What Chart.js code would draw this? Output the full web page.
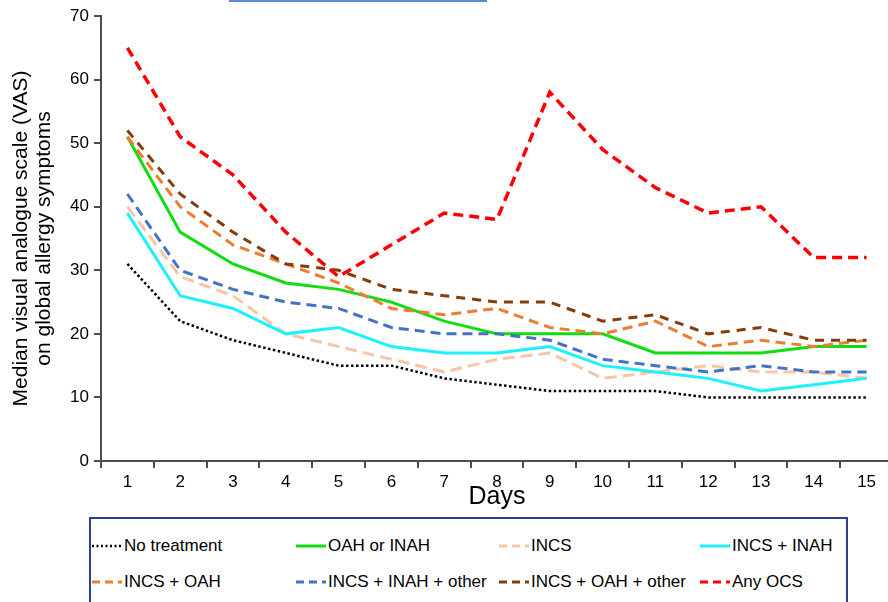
<!DOCTYPE html>
<html><head><meta charset="utf-8">
<script src="https://cdn.jsdelivr.net/npm/chart.js@4"></script>
<style>
html,body{margin:0;padding:0;background:#fff;overflow:hidden;width:888px;height:602px;}
#wrap{position:absolute;left:0;top:0;width:894px;height:512px;}
#topline{position:absolute;left:229px;top:0;width:258px;height:2px;background:#5b8bd6;}
#legend{position:absolute;left:89px;top:517px;width:759px;height:100px;border:2px solid #2f3f8f;box-sizing:border-box;font-family:"Liberation Sans",Arial,sans-serif;font-size:17px;color:#000;}
.item{position:absolute;height:20px;line-height:20px;display:flex;align-items:center;white-space:nowrap;}
.item svg{margin-right:2px;}
</style></head>
<body>
<div id="topline"></div>
<div id="wrap"><canvas id="c" width="894" height="512"></canvas></div>
<div id="legend"></div>
<script>
const days = ['1','2','3','4','5','6','7','8','9','10','11','12','13','14','15'];
const seriesNames = ['No treatment','OAH or INAH','INCS','INCS + INAH','INCS + OAH','INCS + INAH + other','INCS + OAH + other','Any OCS'];
const noTreatment     = [31,22,19,17,15,15,13,12,11,11,11,10,10,10,10];
const oahOrInah       = [51,36,31,28,27,25,22,20,20,20,17,17,17,18,18];
const incs            = [40,29,26,20,18,16,14,16,17,13,14,15,14,14,13];
const incsInah        = [39,26,24,20,21,18,17,17,18,15,14,13,11,12,13];
const incsOah         = [51,40,34,31,28,24,23,24,21,20,22,18,19,18,19];
const incsInahOther   = [42,30,27,25,24,21,20,20,19,16,15,14,15,14,14];
const incsOahOther    = [52,42,36,31,30,27,26,25,25,22,23,20,21,19,19];
const anyOcs          = [65,51,45,36,29,34,39,38,58,49,43,39,40,32,32];
const yTicks = [0,10,20,30,40,50,60,70];

const styles = [
  {color:'#000000', width:2.5, dash:[2.5,2.5], ldash:'2 2.5'},
  {color:'#11dd11', width:3,   dash:[],       ldash:''},
  {color:'#f7c6a6', width:3,   dash:[12,6],   ldash:'8 5'},
  {color:'#1ff0ff', width:3,   dash:[],       ldash:''},
  {color:'#ed7d31', width:3,   dash:[10,6],   ldash:'8 5'},
  {color:'#4472c4', width:3,   dash:[10,6],   ldash:'8 5'},
  {color:'#843c0c', width:3,   dash:[9,7],    ldash:'8 5'},
  {color:'#ff0000', width:3.5, dash:[10,6],   ldash:'8 5'}
];
const values = [noTreatment,oahOrInah,incs,incsInah,incsOah,incsInahOther,incsOahOther,anyOcs];
const FONT = '"Liberation Sans", Arial, sans-serif';

// draw order: red last? keep natural order, red on top
const datasets = values.map((v,i)=>({
  label: seriesNames[i], data: v,
  borderColor: styles[i].color, borderWidth: styles[i].width,
  borderDash: styles[i].dash, borderCapStyle: 'butt',
  pointRadius: 0, fill: false, tension: 0,
  order: 8 - i
}));

new Chart(document.getElementById('c'), {
  type: 'line',
  data: { labels: days, datasets },
  options: {
    responsive: false, animation: false,
    layout: { padding: { top: 16, right: 1, left: 0, bottom: 0 } },
    plugins: { legend: { display: false }, tooltip: { enabled: false } },
    scales: {
      x: {
        offset: true,
        grid: { display: true, drawOnChartArea: false, offset: true, tickLength: 7, color: '#4d4d4d', lineWidth: 2 },
        border: { color: '#4d4d4d', width: 2 },
        ticks: { font: { size: 17, family: FONT }, color: '#000', padding: 4, maxRotation: 0, autoSkip: false },
        title: { display: true, text: 'Days', font: { size: 25, family: FONT }, color: '#000', padding: { top: 0, bottom: 0 } },
        afterFit(s) { s.height = 51; }
      },
      y: {
        min: 0, max: 70,
        afterBuildTicks(s) { s.ticks = yTicks.map(v => ({ value: v })); },
        grid: { display: true, drawOnChartArea: false, tickLength: 7, color: '#4d4d4d', lineWidth: 2 },
        border: { color: '#4d4d4d', width: 2 },
        ticks: { font: { size: 17, family: FONT }, color: '#000', padding: 5 },
        title: { display: true, text: ['Median visual analogue scale (VAS)', 'on global allergy symptoms'],
                 font: { size: 21, family: FONT, lineHeight: 1.1 }, color: '#000', padding: { top: 10, bottom: 0 } },
        afterFit(s) { s.width = 101; }
      }
    }
  }
});

// HTML legend
const legend = document.getElementById('legend');
const cols = [1, 205, 408, 609];
const rows = [17, 53];
seriesNames.forEach((name, i) => {
  const st = styles[i];
  const d = document.createElement('div');
  d.className = 'item';
  d.style.left = cols[i % 4] + 'px';
  d.style.top = rows[Math.floor(i / 4)] + 'px';
  const svgNS = 'http://www.w3.org/2000/svg';
  const svg = document.createElementNS(svgNS, 'svg');
  svg.setAttribute('width', '30'); svg.setAttribute('height', '8');
  const ln = document.createElementNS(svgNS, 'line');
  ln.setAttribute('x1', '0'); ln.setAttribute('x2', '30');
  ln.setAttribute('y1', '4'); ln.setAttribute('y2', '4');
  ln.setAttribute('stroke', st.color);
  ln.setAttribute('stroke-width', String(Math.min(st.width, 3)));
  if (st.ldash) ln.setAttribute('stroke-dasharray', st.ldash);
  svg.appendChild(ln);
  d.appendChild(svg);
  const t = document.createElement('span');
  t.textContent = name;
  d.appendChild(t);
  legend.appendChild(d);
});
</script>
</body></html>
